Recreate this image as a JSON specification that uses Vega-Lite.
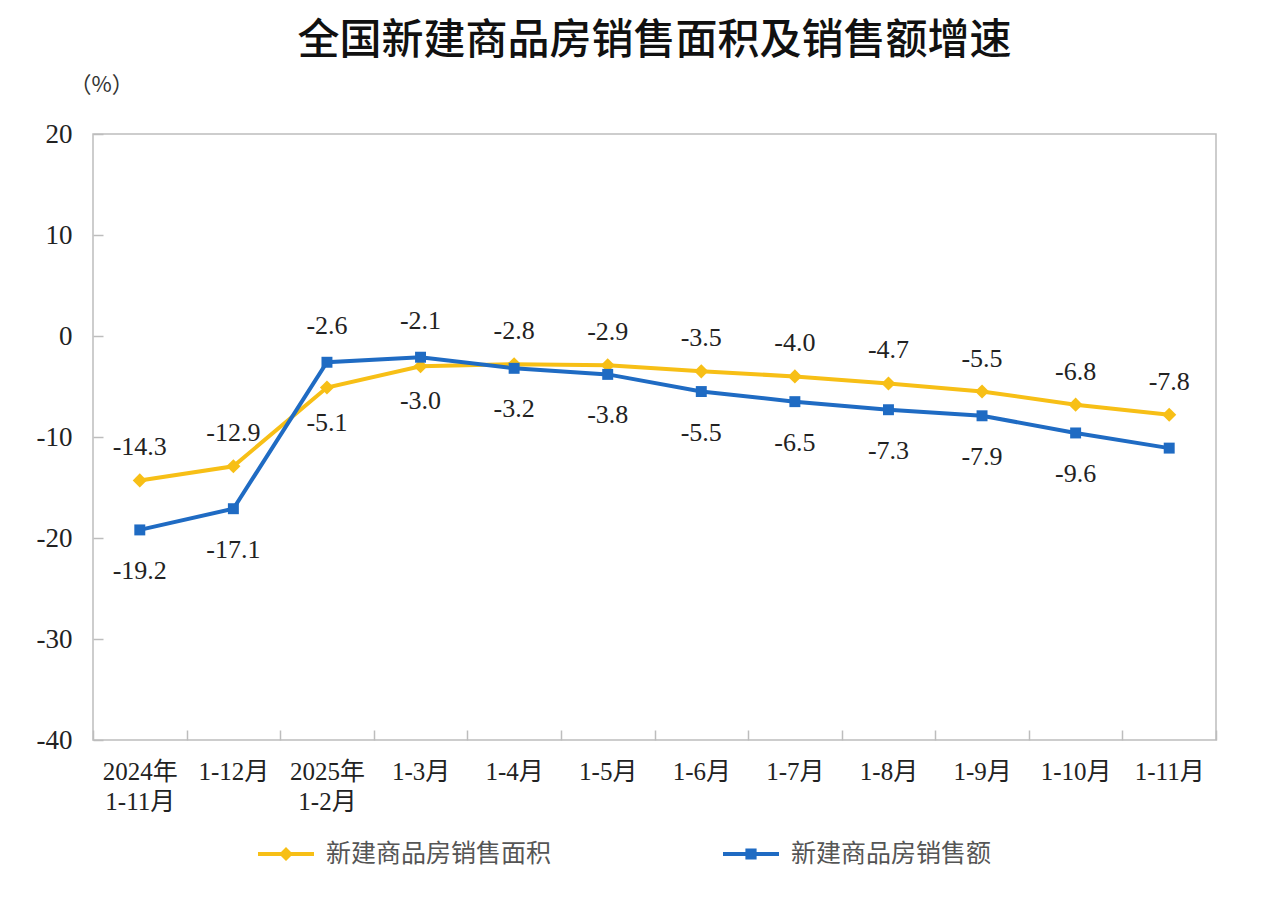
{
  "$schema": "https://vega.github.io/schema/vega-lite/v6.json",
  "width": 1123,
  "height": 606,
  "autosize": "none",
  "padding": {"left": 93, "top": 134, "right": 64, "bottom": 165},
  "background": "white",
  "title": {
    "text": "全国新建商品房销售面积及销售额增速",
    "font": "Noto Sans CJK SC",
    "fontSize": 42,
    "fontWeight": 500,
    "color": "#111111",
    "anchor": "middle",
    "frame": "group",
    "offset": 10
  },
  "config": {
    "view": {"stroke": "#bdbdbd", "strokeWidth": 1.5},
    "axis": {"grid": false, "domain": false},
    "locale": {
      "number": {"decimal": ".", "thousands": ",", "grouping": [3], "currency": ["", ""], "minus": "-"}
    }
  },
  "data": {
    "values": [
      {"cat": "2024年1-11月", "series": "新建商品房销售面积", "value": -14.3},
      {"cat": "1-12月", "series": "新建商品房销售面积", "value": -12.9},
      {"cat": "2025年1-2月", "series": "新建商品房销售面积", "value": -5.1},
      {"cat": "1-3月", "series": "新建商品房销售面积", "value": -3.0},
      {"cat": "1-4月", "series": "新建商品房销售面积", "value": -2.8},
      {"cat": "1-5月", "series": "新建商品房销售面积", "value": -2.9},
      {"cat": "1-6月", "series": "新建商品房销售面积", "value": -3.5},
      {"cat": "1-7月", "series": "新建商品房销售面积", "value": -4.0},
      {"cat": "1-8月", "series": "新建商品房销售面积", "value": -4.7},
      {"cat": "1-9月", "series": "新建商品房销售面积", "value": -5.5},
      {"cat": "1-10月", "series": "新建商品房销售面积", "value": -6.8},
      {"cat": "1-11月", "series": "新建商品房销售面积", "value": -7.8},
      {"cat": "2024年1-11月", "series": "新建商品房销售额", "value": -19.2},
      {"cat": "1-12月", "series": "新建商品房销售额", "value": -17.1},
      {"cat": "2025年1-2月", "series": "新建商品房销售额", "value": -2.6},
      {"cat": "1-3月", "series": "新建商品房销售额", "value": -2.1},
      {"cat": "1-4月", "series": "新建商品房销售额", "value": -3.2},
      {"cat": "1-5月", "series": "新建商品房销售额", "value": -3.8},
      {"cat": "1-6月", "series": "新建商品房销售额", "value": -5.5},
      {"cat": "1-7月", "series": "新建商品房销售额", "value": -6.5},
      {"cat": "1-8月", "series": "新建商品房销售额", "value": -7.3},
      {"cat": "1-9月", "series": "新建商品房销售额", "value": -7.9},
      {"cat": "1-10月", "series": "新建商品房销售额", "value": -9.6},
      {"cat": "1-11月", "series": "新建商品房销售额", "value": -11.1}
    ]
  },
  "encoding": {
    "x": {
      "field": "cat",
      "type": "nominal",
      "sort": ["2024年1-11月", "1-12月", "2025年1-2月", "1-3月", "1-4月", "1-5月", "1-6月", "1-7月", "1-8月", "1-9月", "1-10月", "1-11月"],
      "scale": {"type": "band", "paddingInner": 0, "paddingOuter": 0},
      "axis": {
        "title": null,
        "labelAngle": 0,
        "tickBand": "extent",
        "tickSize": -10,
        "tickColor": "#bdbdbd",
        "tickWidth": 1.5,
        "labelPadding": 29,
        "labelBaseline": "top",
        "labelFont": "Liberation Serif, Noto Sans CJK SC",
        "labelFontSize": 25,
        "labelColor": "#222222",
        "labelLineHeight": 30,
        "labelExpr": "datum.value == '2024年1-11月' ? ['2024年','1-11月'] : datum.value == '2025年1-2月' ? ['2025年','1-2月'] : datum.label"
      }
    },
    "y": {
      "field": "value",
      "type": "quantitative",
      "scale": {"domain": [-40, 20], "nice": false, "zero": false},
      "axis": {
        "values": [-40, -30, -20, -10, 0, 10, 20],
        "format": "d",
        "title": "（%）",
        "titleAngle": 0,
        "titleAlign": "center",
        "titleBaseline": "middle",
        "titleX": 8,
        "titleY": -50,
        "titleFont": "Noto Sans CJK SC",
        "titleFontSize": 22,
        "titleFontWeight": "normal",
        "titleColor": "#333333",
        "tickSize": -10,
        "tickColor": "#bdbdbd",
        "tickWidth": 1.5,
        "labelPadding": 31,
        "labelFont": "Liberation Serif",
        "labelFontSize": 27,
        "labelColor": "#222222"
      }
    }
  },
  "layer": [
    {
      "mark": {"type": "line", "strokeWidth": 4},
      "encoding": {
        "color": {
          "field": "series",
          "type": "nominal",
          "scale": {"domain": ["新建商品房销售面积", "新建商品房销售额"], "range": ["#F7BF16", "#1F6BC3"]},
          "legend": {
            "title": null,
            "orient": "none",
            "legendX": 165,
            "legendY": 692,
            "direction": "horizontal",
            "columns": 2,
            "columnPadding": 171,
            "symbolSize": 3136,
            "labelFont": "Noto Sans CJK SC",
            "labelFontSize": 25,
            "labelColor": "#555555",
            "labelOffset": 12,
            "labelLimit": 400,
            "encode": {
              "symbols": {
                "update": {
                  "shape": {"signal": "datum.value == '新建商品房销售面积' ? 'M-1,-0.07H1V0.07H-1Z M0,-0.25L0.25,0L0,0.25L-0.25,0Z' : 'M-1,-0.07H1V0.07H-1Z M-0.2,-0.2H0.2V0.2H-0.2Z'"},
                  "fill": {"signal": "datum.value == '新建商品房销售面积' ? '#F7BF16' : '#1F6BC3'"},
                  "strokeWidth": {"value": 0},
                  "opacity": {"value": 1}
                }
              }
            }
          }
        }
      }
    },
    {
      "transform": [{"filter": "datum.series == '新建商品房销售面积'"}],
      "mark": {"type": "point", "shape": "diamond", "filled": true, "size": 200, "opacity": 1, "color": "#F7BF16"}
    },
    {
      "transform": [{"filter": "datum.series == '新建商品房销售额'"}],
      "mark": {"type": "point", "shape": "square", "filled": true, "size": 120, "opacity": 1, "color": "#1F6BC3"}
    },
    {
      "transform": [{"filter": "datum.series == '新建商品房销售面积' && datum.cat != '2025年1-2月' && datum.cat != '1-3月'"}],
      "mark": {"type": "text", "dy": -33, "font": "Liberation Serif", "fontSize": 26, "color": "#222222", "baseline": "middle"},
      "encoding": {"text": {"field": "value", "type": "quantitative", "format": ".1f"}}
    },
    {
      "transform": [{"filter": "datum.series == '新建商品房销售额' && datum.cat != '2025年1-2月' && datum.cat != '1-3月' && datum.cat != '1-11月'"}],
      "mark": {"type": "text", "dy": 41, "font": "Liberation Serif", "fontSize": 26, "color": "#222222", "baseline": "middle"},
      "encoding": {"text": {"field": "value", "type": "quantitative", "format": ".1f"}}
    },
    {
      "transform": [{"filter": "datum.series == '新建商品房销售额' && (datum.cat == '2025年1-2月' || datum.cat == '1-3月')"}],
      "mark": {"type": "text", "dy": -36, "font": "Liberation Serif", "fontSize": 26, "color": "#222222", "baseline": "middle"},
      "encoding": {"text": {"field": "value", "type": "quantitative", "format": ".1f"}}
    },
    {
      "transform": [{"filter": "datum.series == '新建商品房销售面积' && (datum.cat == '2025年1-2月' || datum.cat == '1-3月')"}],
      "mark": {"type": "text", "dy": 35, "font": "Liberation Serif", "fontSize": 26, "color": "#222222", "baseline": "middle"},
      "encoding": {"text": {"field": "value", "type": "quantitative", "format": ".1f"}}
    }
  ]
}
